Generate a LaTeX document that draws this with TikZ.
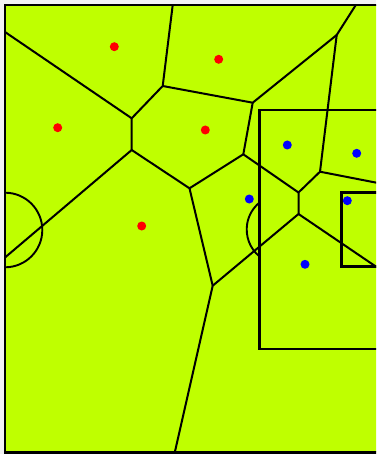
\documentclass[tikz,border=0pt]{standalone}
\definecolor{pitch}{RGB}{191,255,0}
\begin{document}
\begin{tikzpicture}[x=1pt,y=-1pt,
  vor/.style={line width=2pt, line join=round},
  markline/.style={line width=2.7pt},
  thinmark/.style={line width=1.9pt},
  reddot/.style={circle, fill=red, inner sep=0pt, minimum size=9pt},
  bluedot/.style={circle, fill=blue, inner sep=0pt, minimum size=9pt}]
\useasboundingbox (0,0) rectangle (376,454);
\fill[gray!10] (0,0) rectangle (376,454);
\begin{scope}
\clip (0,0) rectangle (376,454);
\fill[pitch] (5,5) rectangle (380,452.3);
% voronoi vertices
\coordinate (L1) at (5,32);
\coordinate (T1) at (172.7,5);
\coordinate (A) at (131.7,118.3);
\coordinate (B) at (162.7,86);
\coordinate (C) at (252.7,102.7);
\coordinate (D) at (131.7,150);
\coordinate (L2) at (5,257.5);
\coordinate (E) at (189.5,188.3);
\coordinate (F) at (243.3,154.3);
\coordinate (G) at (336.7,35);
\coordinate (T2) at (355.8,5);
\coordinate (H) at (320,171.7);
\coordinate (R1) at (378,183);
\coordinate (I) at (298.5,192.5);
\coordinate (J) at (298.5,214);
\coordinate (K) at (212.7,285.7);
\coordinate (R2) at (378,268);
\coordinate (Bt) at (174.8,452.3);
% pitch markings
\begin{scope}
\clip (5,5) rectangle (380,452.3);
\draw[thinmark] (5,230) circle (37.3);
\end{scope}
\draw[markline] (380,110) -- (259.3,110) -- (259.3,349) -- (380,349);
\draw[markline] (380,192.3) -- (341.3,192.3) -- (341.3,266.7) -- (380,266.7);
\draw[thinmark] (281.5,229.5) ++(129.6:34.8) arc[start angle=129.6, end angle=230.4, radius=34.8];
% voronoi edges
\draw[vor] (L1) -- (A) -- (B) -- (T1);
\draw[vor] (B) -- (C) -- (G) -- (T2);
\draw[vor] (A) -- (D) -- (L2);
\draw[vor] (D) -- (E) -- (F) -- (C);
\draw[vor] (G) -- (H) -- (R1);
\draw[vor] (H) -- (I) -- (J) -- (K) -- (Bt);
\draw[vor] (F) -- (I);
\draw[vor] (J) -- (R2);
\draw[vor] (E) -- (K);
% border
\draw[line width=2.4pt] (380,5) -- (5,5) -- (5,452.3) -- (380,452.3);
% players
\node[reddot] (r1) at (114.3,46.7) {};
\node[reddot] (r2) at (218.7,59.3) {};
\node[reddot] (r3) at (57.7,127.7) {};
\node[reddot] (r4) at (205.3,130) {};
\node[reddot] (r5) at (141.7,226) {};
\node[bluedot] (b1) at (287.3,145) {};
\node[bluedot] (b2) at (356.7,153.3) {};
\node[bluedot] (b3) at (249.3,199) {};
\node[bluedot] (b4) at (347.3,200.7) {};
\node[bluedot] (b5) at (305,264.3) {};
\end{scope}
\end{tikzpicture}
\end{document}
